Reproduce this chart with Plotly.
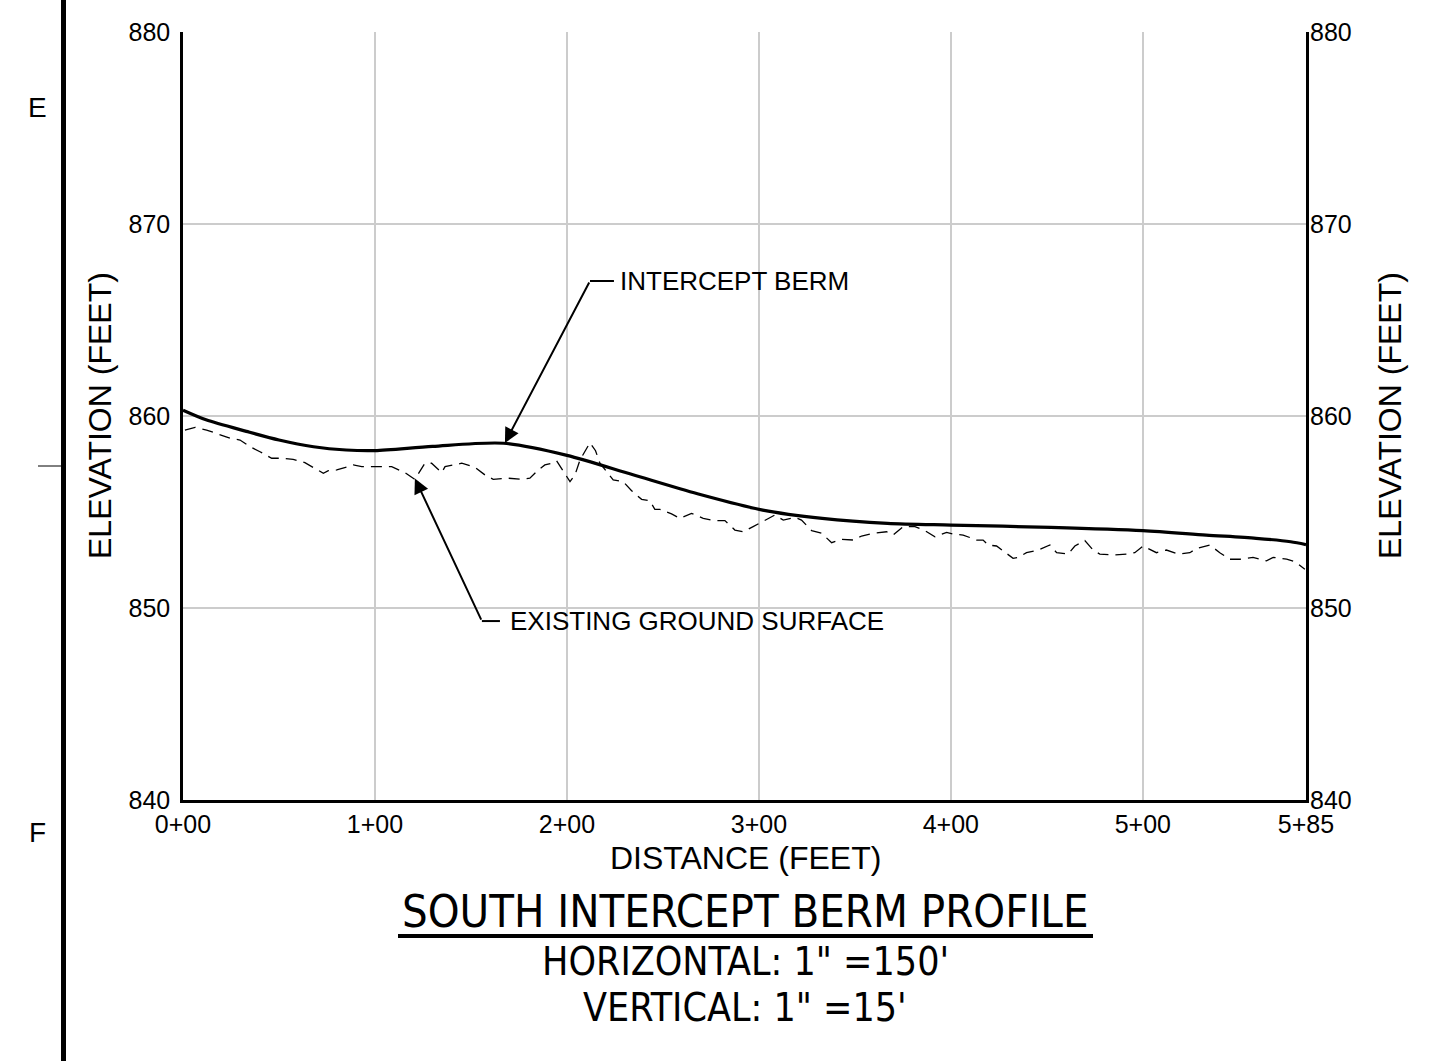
import plotly.graph_objects as go

# ---------------- data ----------------
berm_dist = [0, 12, 33, 50, 68, 85, 100, 130, 167, 200, 234, 268, 302, 333, 367, 400, 452, 500, 533, 559, 577, 585]
berm_elev = [860.3, 859.8, 859.2, 858.75, 858.4, 858.23, 858.2, 858.42, 858.58, 857.95, 856.95, 855.95, 855.1,
             854.67, 854.41, 854.32, 854.2, 854.03, 853.8, 853.63, 853.45, 853.3]

ground_dist = [1.0, 6.3, 12.3, 17.6, 24.5, 29.7, 34.9, 40.1, 46.2, 52.2, 57.4, 63.5, 69.6, 73.1, 75.7, 80.1,
               86.1, 88.7, 93.1, 98.3, 103.5, 108.7, 115.6, 120.8, 126.0, 129.5, 134.7, 136.5, 145.2, 152.1,
               157.3, 161.6, 169.4, 176.4, 180.7, 185.1, 188.5, 192.0, 194.6, 198.1, 201.6, 204.2, 206.8,
               212.0, 214.9, 217.2, 224.1, 229.3, 233.7, 238.9, 243.2, 245.8, 248.4, 254.5, 258.9, 264.9,
               271.0, 277.1, 282.3, 287.5, 291.8, 297.0, 302.2, 308.3, 312.7, 318.8, 322.2, 327.5, 332.7,
               337.9, 343.1, 349.1, 353.5, 359.5, 366.5, 369.9, 375.2, 381.3, 386.5, 391.7, 397.8, 401.2,
               406.4, 413.4, 416.8, 419.4, 423.8, 429.0, 432.4, 435.1, 439.4, 445.5, 451.6, 455.1, 461.1,
               464.6, 469.8, 474.1, 477.6, 484.5, 491.5, 495.8, 500.2, 507.1, 512.3, 518.4, 524.5, 528.0,
               530.6, 534.9, 540.1, 545.3, 550.5, 557.4, 564.4, 567.9, 574.9, 579.2, 584.4]
ground_elev = [859.27, 859.41, 859.27, 859.10, 858.84, 858.75, 858.40, 858.14, 857.80, 857.80, 857.74, 857.57,
               857.22, 857.02, 857.15, 857.19, 857.36, 857.45, 857.36, 857.36, 857.36, 857.36, 857.05, 856.70,
               857.54, 857.54, 857.05, 857.36, 857.54, 857.33, 856.93, 856.70, 856.76, 856.70, 856.76, 857.19,
               857.45, 857.54, 857.67, 857.10, 856.58, 856.93, 857.71, 858.61, 858.19, 857.54, 856.67, 856.58,
               856.11, 855.66, 855.59, 855.14, 855.14, 854.90, 854.67, 854.93, 854.67, 854.55, 854.55, 854.06,
               853.97, 854.24, 854.50, 854.84, 854.58, 854.72, 854.58, 854.03, 853.89, 853.40, 853.58, 853.54,
               853.75, 853.89, 853.97, 853.80, 854.24, 854.24, 854.03, 853.71, 853.94, 853.85, 853.80, 853.54,
               853.54, 853.28, 853.23, 852.85, 852.59, 852.64, 852.88, 853.02, 853.28, 852.88, 852.81, 853.23,
               853.51, 853.02, 852.81, 852.76, 852.81, 852.88, 853.23, 852.88, 853.02, 852.81, 852.88, 853.10,
               853.16, 853.28, 852.88, 852.54, 852.54, 852.64, 852.46, 852.64, 852.54, 852.41, 852.02]

x_tick_vals = [0, 100, 200, 300, 400, 500, 585]
x_tick_text = ["0+00", "1+00", "2+00", "3+00", "4+00", "5+00", "5+85"]
y_tick_vals = [840, 850, 860, 870, 880]

X_RANGE = [0, 585]
Y_RANGE = [840, 880]

# ---------------- layout geometry (pixels) ----------------
W, H = 1432, 1061
L, R, T, B = 183, 126, 32, 261
PW = W - L - R
PH = H - T - B


def px(xp):
    return (xp - L) / PW


def py(yp):
    return (H - B - yp) / PH


FONT = "Liberation Sans, Arial, sans-serif"
NARROW = "Liberation Sans Narrow, Arial Narrow, DejaVu Sans Condensed, sans-serif"

fig = go.Figure()

fig.add_trace(go.Scatter(
    x=ground_dist, y=ground_elev, mode="lines",
    line=dict(color="black", width=1.3, dash="11px,7px"),
    yaxis="y2", hoverinfo="skip", showlegend=False,
))
fig.add_trace(go.Scatter(
    x=berm_dist, y=berm_elev, mode="lines",
    line=dict(color="black", width=3.2, shape="spline", smoothing=0.8),
    hoverinfo="skip", showlegend=False,
))

axis_font = dict(family=FONT, size=25, color="black")

fig.update_layout(
    width=W, height=H,
    margin=dict(l=L, r=R, t=T, b=B, pad=0),
    paper_bgcolor="white", plot_bgcolor="white",
    showlegend=False,
    xaxis=dict(
        range=X_RANGE, tickvals=x_tick_vals, ticktext=x_tick_text,
        showgrid=True, gridcolor="#cccccc", gridwidth=2,
        showline=True, linecolor="black", linewidth=2.5,
        ticks="", tickfont=axis_font, ticklabelstandoff=0,
        zeroline=False, fixedrange=True,
    ),
    yaxis=dict(
        range=Y_RANGE, tickvals=y_tick_vals,
        showgrid=True, gridcolor="#cccccc", gridwidth=2,
        showline=True, mirror=True, linecolor="black", linewidth=2.5,
        ticks="", tickfont=axis_font, ticklabelstandoff=5,
        zeroline=False, fixedrange=True,
    ),
    yaxis2=dict(
        range=Y_RANGE, tickvals=y_tick_vals, overlaying="y", side="right",
        showgrid=False, showline=False, ticks="", tickfont=axis_font,
        ticklabelstandoff=3, zeroline=False, fixedrange=True,
    ),
)


def paper_text(text, xp, yp, size, family=FONT, angle=0):
    fig.add_annotation(text=text, xref="paper", yref="paper", x=px(xp), y=py(yp),
                       xanchor="center", yanchor="middle", textangle=angle, showarrow=False,
                       font=dict(family=family, size=size, color="black"))


# Axis titles
paper_text("ELEVATION (FEET)", 100, 416, 32, angle=-90)
paper_text("ELEVATION (FEET)", 1390, 416, 32, angle=-90)
paper_text("DISTANCE (FEET)", 745, 858, 32)

# Title block
paper_text("SOUTH INTERCEPT BERM PROFILE", 745, 911, 45, family=NARROW)
fig.add_shape(type="line", xref="paper", yref="paper", x0=px(398), x1=px(1093), y0=py(936), y1=py(936),
              line=dict(color="black", width=4))
paper_text("HORIZONTAL: 1\" =150'", 745, 961, 39, family=NARROW)
paper_text("VERTICAL: 1\" =15'", 745, 1007, 39, family=NARROW)

# Sheet border on the left
fig.add_shape(type="line", xref="paper", yref="paper", x0=px(63.5), x1=px(63.5), y0=py(H), y1=py(0),
              line=dict(color="black", width=5))
fig.add_shape(type="line", xref="paper", yref="paper", x0=px(38), x1=px(63), y0=py(466), y1=py(466),
              line=dict(color="black", width=1))
paper_text("E", 37, 107, 28)
paper_text("F", 37, 832, 28)

# Callouts (data coordinates)
berm_tip = (167.7, 858.59)
berm_tail = (212.0, 867.03)
ground_tip = (120.8, 856.75)
ground_tail = (155.7, 849.32)

fig.add_annotation(x=berm_tip[0], y=berm_tip[1], ax=berm_tail[0], ay=berm_tail[1], axref="x", ayref="y",
                   xref="x", yref="y", text="", showarrow=True, arrowhead=2, arrowsize=1.5,
                   arrowwidth=2, arrowcolor="black")
fig.add_shape(type="line", xref="x", yref="y", x0=berm_tail[0], x1=224.5, y0=berm_tail[1], y1=berm_tail[1],
              line=dict(color="black", width=2))
fig.add_annotation(x=226.8, y=berm_tail[1], xref="x", yref="y", text="INTERCEPT BERM", showarrow=False,
                   xanchor="left", yanchor="middle", font=dict(family=FONT, size=26, color="black"))

fig.add_annotation(x=ground_tip[0], y=ground_tip[1], ax=ground_tail[0], ay=ground_tail[1], axref="x", ayref="y",
                   xref="x", yref="y", text="", showarrow=True, arrowhead=2, arrowsize=1.5,
                   arrowwidth=2, arrowcolor="black")
fig.add_shape(type="line", xref="x", yref="y", x0=ground_tail[0], x1=165.1, y0=ground_tail[1], y1=ground_tail[1],
              line=dict(color="black", width=2))
fig.add_annotation(x=169.3, y=ground_tail[1], xref="x", yref="y", text="EXISTING GROUND SURFACE", showarrow=False,
                   xanchor="left", yanchor="middle", font=dict(family=FONT, size=26, color="black"))

fig.write_html("out.html", config={"displayModeBar": False},
               post_script="document.body.style.margin='0';")
